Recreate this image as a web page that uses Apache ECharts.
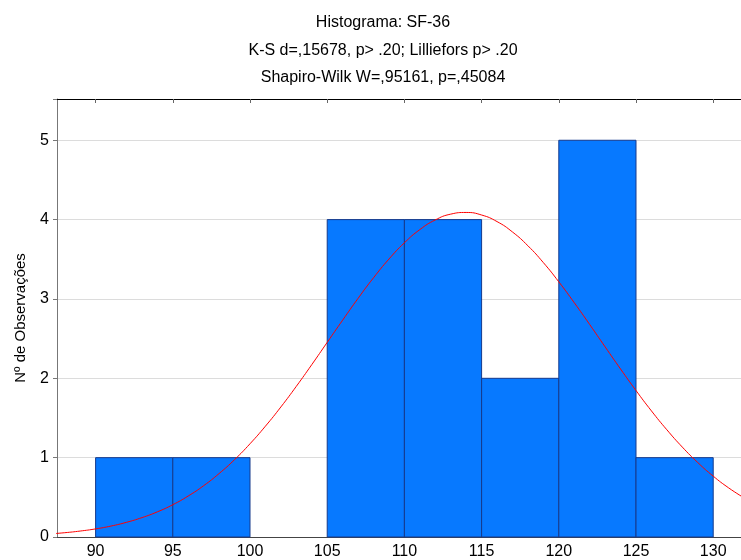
<!DOCTYPE html>
<html>
<head>
<meta charset="utf-8">
<script src="https://cdn.jsdelivr.net/npm/echarts@6/dist/echarts.min.js"></script>
<style>html,body{margin:0;padding:0;background:#fff}#c{width:741px;height:560px}</style>
</head>
<body>
<div id="c"></div>
<script>
var titleLines = ['Histograma: SF-36', 'K-S d=,15678, p> .20; Lilliefors p> .20', 'Shapiro-Wilk W=,95161, p=,45084'];
var yAxisName = 'Nº de Observações';
var binStarts = [90, 95, 100, 105, 110, 115, 120, 125];
var binEnds   = [95, 100, 105, 110, 115, 120, 125, 130];
var counts    = [1, 1, 0, 4, 4, 2, 5, 1];
var xTicks = [90, 95, 100, 105, 110, 115, 120, 125, 130];
var curveX = [87, 88, 89, 90, 91, 92, 93, 94, 95, 96, 97, 98, 99, 100, 101, 102, 103, 104, 105, 106, 107, 108, 109, 110,
              111, 112, 113, 114, 115, 116, 117, 118, 119, 120, 121, 122, 123, 124, 125, 126, 127, 128, 129, 130, 131, 132];
var curveY = [0.038, 0.054, 0.075, 0.102, 0.138, 0.185, 0.244, 0.317, 0.407, 0.517, 0.647, 0.800, 0.975, 1.175, 1.397, 1.639,
              1.899, 2.172, 2.453, 2.733, 3.008, 3.267, 3.503, 3.708, 3.874, 3.996, 4.069, 4.090, 4.058, 3.975, 3.844, 3.670,
              3.458, 3.216, 2.953, 2.678, 2.396, 2.117, 1.846, 1.589, 1.351, 1.133, 0.938, 0.767, 0.619, 0.493];

var barData = binStarts.map(function (s, i) { return [s, binEnds[i], counts[i]]; });
var curveData = curveX.map(function (x, i) { return [x, curveY[i]]; });

var chart = echarts.init(document.getElementById('c'), null, {renderer: 'canvas'});
var font = 'Liberation Sans, Arial, sans-serif';
chart.setOption({
  animation: false,
  backgroundColor: '#fff',
  title: titleLines.map(function (t, i) {
    return {text: t, left: 383, textAlign: 'center', top: 15 + i * 27.3, padding: 0,
      textStyle: {fontFamily: font, fontSize: 16, fontWeight: 'normal', color: '#000'}};
  }),
  grid: {left: 57, right: 0, top: 99, bottom: 23, containLabel: false},
  xAxis: [{
    type: 'value', min: 87.5, max: 131.8, position: 'bottom',
    axisLine: {show: true, lineStyle: {color: '#444', width: 1}},
    axisTick: {show: false},
    splitLine: {show: false},
    axisLabel: {customValues: xTicks, fontFamily: font, fontSize: 16, color: '#000', margin: 7}
  }, {
    type: 'value', min: 87.5, max: 131.8, position: 'top',
    axisLine: {show: true, onZero: false, lineStyle: {color: '#000', width: 1}},
    axisTick: {show: true, inside: true, length: 4, customValues: xTicks, lineStyle: {color: '#666'}},
    axisLabel: {show: false},
    splitLine: {show: false}
  }],
  yAxis: {
    type: 'value', min: 0, max: 5.52, interval: 1,
    name: yAxisName, nameLocation: 'middle', nameGap: 29,
    nameTextStyle: {fontFamily: font, fontSize: 15, color: '#000'},
    axisLine: {show: true, lineStyle: {color: '#777'}},
    axisTick: {show: true, length: 4, lineStyle: {color: '#777'}},
    axisLabel: {fontFamily: font, fontSize: 16, color: '#000', margin: 8,
      formatter: function (v) { return Number.isInteger(v) ? String(v) : ''; }},
    splitLine: {show: true, lineStyle: {color: '#dcdcdc', width: 1}}
  },
  series: [{
    type: 'custom',
    xAxisIndex: 0,
    data: barData,
    encode: {x: [0, 1], y: 2},
    renderItem: function (params, api) {
      var v = api.value(2);
      if (!v) return null;
      var p1 = api.coord([api.value(0), v]);
      var p2 = api.coord([api.value(1), 0]);
      return {
        type: 'rect',
        shape: {x: p1[0], y: p1[1], width: p2[0] - p1[0], height: p2[1] - p1[1]},
        style: {fill: '#0779ff', stroke: '#163a8c', lineWidth: 1}
      };
    },
    z: 2
  }, {
    type: 'line',
    xAxisIndex: 0,
    data: curveData,
    smooth: true,
    showSymbol: false,
    lineStyle: {color: '#ff0000', width: 1},
    z: 3
  }]
});
</script>
</body>
</html>
